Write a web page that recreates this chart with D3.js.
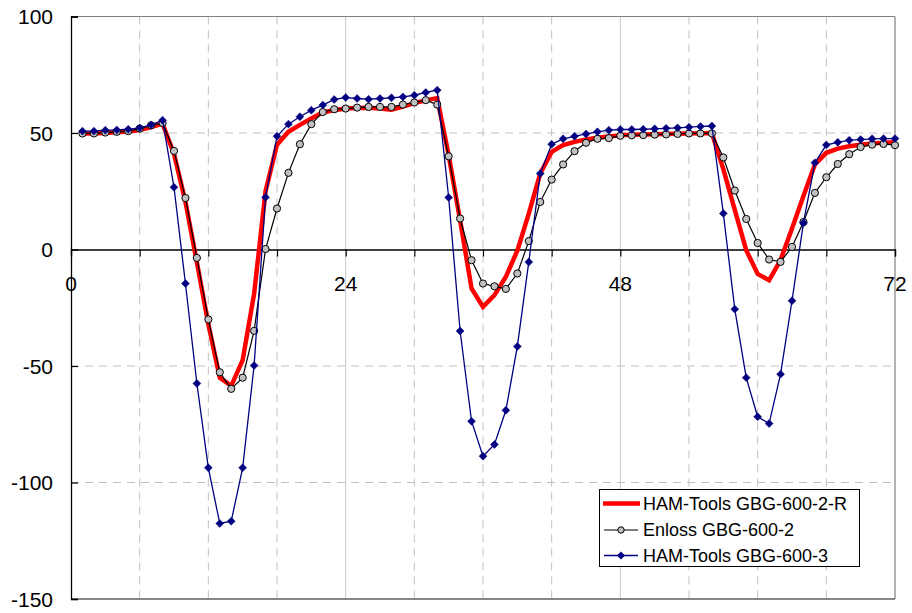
<!DOCTYPE html>
<html>
<head>
<meta charset="utf-8">
<script src="https://cdn.jsdelivr.net/npm/d3@7"></script>
<style>
  html, body { margin: 0; padding: 0; background: #fff; }
  svg { display: block; font-family: "Liberation Sans", Arial, sans-serif; }
</style>
</head>
<body>
<svg id="chart" width="912" height="613"></svg>
<script>
// ---- data ----
const hours = [1,2,3,4,5,6,7,8,9,10,11,12,13,14,15,16,17,18,19,20,21,22,23,24,
  25,26,27,28,29,30,31,32,33,34,35,36,37,38,39,40,41,42,43,44,45,46,47,48,
  49,50,51,52,53,54,55,56,57,58,59,60,61,62,63,64,65,66,67,68,69,70,71,72];

const seriesNames = ["HAM-Tools GBG-600-2-R", "Enloss GBG-600-2", "HAM-Tools GBG-600-3"];

const hamR = [49.8, 49.8, 50.0, 50.3, 50.6, 51.3, 52.5, 54.0,
  41.0, 20.5, -5.5, -32, -55, -58.5, -47.5, -19,
  25, 45, 50.5, 53.5, 56.2, 58.8, 59.8, 60.5, 60.7, 60.8, 60.5, 60.0, 61.3, 62.8, 64.0, 65.0,
  40.5, 12.5, -16.7, -24.6, -19.6, -11.7, -0.5, 15.4,
  32.6, 41.9, 44.8, 46.2, 47.2, 48.0, 48.5, 49.0, 49.2, 49.4, 49.5, 49.6, 49.7, 49.8, 49.9, 50.0,
  34.5, 17, -0.3, -10.5, -13.2, -4.5, 9, 23,
  36.5, 41.5, 43.3, 44.3, 45.0, 45.5, 45.8, 46.0];

const enloss = [49.8, 49.8, 50.2, 50.5, 50.8, 51.9, 53.3, 54.3,
  42.3, 22.1, -3.6, -30, -52.7, -59.8, -55, -34.9,
  0.2, 17.6, 32.9, 45.2, 53.8, 59, 60.2, 60.5, 60.9, 61.2, 61.2, 61.2, 62.2, 63.1, 64.1, 62.2,
  40, 13.3, -4.6, -14.6, -15.8, -16.9, -10.3, 3.6,
  20.4, 30, 36.5, 42.2, 45.8, 47.5, 47.8, 48.8, 49, 49.1, 49.3, 49.4, 49.6, 49.8, 49.8, 49.8,
  39.5, 25.3, 13.1, 2.8, -4.3, -5.3, 1.1, 11.8,
  24.3, 31, 36.7, 40.9, 44, 45, 45.3, 44.8];

const ham3 = [50.8, 50.8, 51.2, 51.3, 51.6, 52.2, 53.5, 55.5,
  26.7, -14.6, -57.5, -93.7, -117.6, -116.6, -93.7, -49.8,
  22.4, 48.6, 53.8, 57, 59.8, 62, 64.4, 65.2, 64.8, 64.5, 64.8, 65.1, 65.5, 66.2, 67.4, 68.4,
  22.3, -35, -73.7, -88.7, -83.7, -69, -41.6, -5.4,
  32.6, 45.2, 47.5, 48.6, 49.6, 50.5, 51.2, 51.5, 51.5, 51.6, 51.8, 52, 52.2, 52.5, 52.8, 53,
  15.5, -25.6, -55, -71.8, -74.7, -53.5, -22, 11.4,
  37.2, 44.9, 46, 46.9, 47.2, 47.5, 47.6, 47.6];

const xTickValues = [0, 6, 12, 18, 24, 30, 36, 42, 48, 54, 60, 66, 72];
const xTickLabels = ["0", "", "", "", "24", "", "", "", "48", "", "", "", "72"];
const yTickValues = [-150, -100, -50, 0, 50, 100];
const yTickLabels = ["-150", "-100", "-50", "0", "50", "100"];

// ---- layout ----
const svg = d3.select("#chart");
const L = 71, R = 895, T = 16.5, B = 599;
const x = d3.scaleLinear().domain([0, 72]).range([L, R]);
const y = d3.scaleLinear().domain([-150, 100]).range([B, T]);

// grid lines
const grid = svg.append("g");
xTickValues.filter(v => v > 0 && v < 72).forEach(v => {
  const solid = (v % 24 === 0);
  grid.append("line")
    .attr("x1", x(v)).attr("x2", x(v)).attr("y1", T).attr("y2", B)
    .attr("stroke", solid ? "#c8c8c8" : "#c0c0c0")
    .attr("stroke-width", 1)
    .attr("stroke-dasharray", solid ? null : "8,6");
});
yTickValues.filter(v => v > -150 && v < 100 && v !== 0).forEach(v => {
  grid.append("line")
    .attr("x1", L).attr("x2", R).attr("y1", y(v)).attr("y2", y(v))
    .attr("stroke", "#c0c0c0").attr("stroke-width", 1)
    .attr("stroke-dasharray", "8,6");
});
// plot frame (top/right/bottom)
grid.append("line").attr("x1", L).attr("x2", R).attr("y1", y(100)).attr("y2", y(100))
  .attr("stroke", "#808080").attr("stroke-width", 1.2);
grid.append("line").attr("x1", R).attr("x2", R).attr("y1", T).attr("y2", B)
  .attr("stroke", "#808080").attr("stroke-width", 1.2);
grid.append("line").attr("x1", L).attr("x2", R).attr("y1", B).attr("y2", B)
  .attr("stroke", "#606060").attr("stroke-width", 1.5);

// y axis
const yAxis = d3.axisRight(y).tickValues(yTickValues).tickSize(7).tickFormat("");
const gy = svg.append("g").attr("transform", `translate(${L},0)`).call(yAxis);
gy.select(".domain").attr("stroke", "#000").attr("stroke-width", 1.3);
gy.selectAll(".tick line").attr("stroke", "#000").attr("stroke-width", 1.2);
svg.append("g").selectAll("text").data(yTickValues).join("text")
  .attr("x", 53).attr("y", d => y(d)).attr("dy", "0.36em")
  .attr("text-anchor", "end").attr("font-size", 21).attr("fill", "#000")
  .text((d, i) => yTickLabels[i]);

// x axis at y = 0
const xAxis = d3.axisBottom(x).tickValues(xTickValues).tickSize(7).tickFormat("");
const gx = svg.append("g").attr("transform", `translate(0,${y(0)})`).call(xAxis);
gx.select(".domain").attr("stroke", "#000").attr("stroke-width", 1.3);
gx.selectAll(".tick line").attr("stroke", "#000").attr("stroke-width", 1.2);
svg.append("g").selectAll("text").data(xTickValues).join("text")
  .attr("x", d => x(d)).attr("y", y(0) + 41)
  .attr("text-anchor", "middle").attr("font-size", 21).attr("fill", "#000")
  .text((d, i) => xTickLabels[i]);

// series
const line = d3.line().x((d, i) => x(hours[i])).y(d => y(d));

svg.append("path").datum(hamR).attr("d", line)
  .attr("fill", "none").attr("stroke", "#ff0000").attr("stroke-width", 4.5)
  .attr("stroke-linejoin", "miter");

svg.append("path").datum(enloss).attr("d", line)
  .attr("fill", "none").attr("stroke", "#000").attr("stroke-width", 1.2);
svg.append("g").selectAll("circle").data(enloss).join("circle")
  .attr("cx", (d, i) => x(hours[i])).attr("cy", d => y(d)).attr("r", 3.6)
  .attr("fill", "#c0c0c0").attr("stroke", "#000").attr("stroke-width", 1);

svg.append("path").datum(ham3).attr("d", line)
  .attr("fill", "none").attr("stroke", "#000080").attr("stroke-width", 1.3);
const diamond = d3.symbol().type(d3.symbolDiamond2).size(40);
svg.append("g").selectAll("path").data(ham3).join("path")
  .attr("d", diamond)
  .attr("transform", (d, i) => `translate(${x(hours[i])},${y(d)})`)
  .attr("fill", "#000080").attr("stroke", "#000080").attr("stroke-width", 0.5);

// legend
const lg = svg.append("g");
lg.append("rect").attr("x", 599.5).attr("y", 489.5).attr("width", 260).attr("height", 77)
  .attr("fill", "#fff").attr("stroke", "#000").attr("stroke-width", 1);
const rows = [503.5, 530, 555.5];
lg.append("line").attr("x1", 603).attr("x2", 640).attr("y1", rows[0]).attr("y2", rows[0])
  .attr("stroke", "#ff0000").attr("stroke-width", 4.5);
lg.append("line").attr("x1", 604).attr("x2", 638).attr("y1", rows[1]).attr("y2", rows[1])
  .attr("stroke", "#000").attr("stroke-width", 1.2);
lg.append("circle").attr("cx", 621).attr("cy", rows[1]).attr("r", 3.2)
  .attr("fill", "#c0c0c0").attr("stroke", "#000").attr("stroke-width", 1);
lg.append("line").attr("x1", 604).attr("x2", 638).attr("y1", rows[2]).attr("y2", rows[2])
  .attr("stroke", "#000080").attr("stroke-width", 1.3);
lg.append("path").attr("d", diamond).attr("transform", `translate(621,${rows[2]})`)
  .attr("fill", "#000080");
lg.selectAll("text").data(seriesNames).join("text")
  .attr("x", 643).attr("y", (d, i) => rows[i]).attr("dy", "0.36em")
  .attr("font-size", 18).attr("fill", "#000").text(d => d);
</script>
</body>
</html>
